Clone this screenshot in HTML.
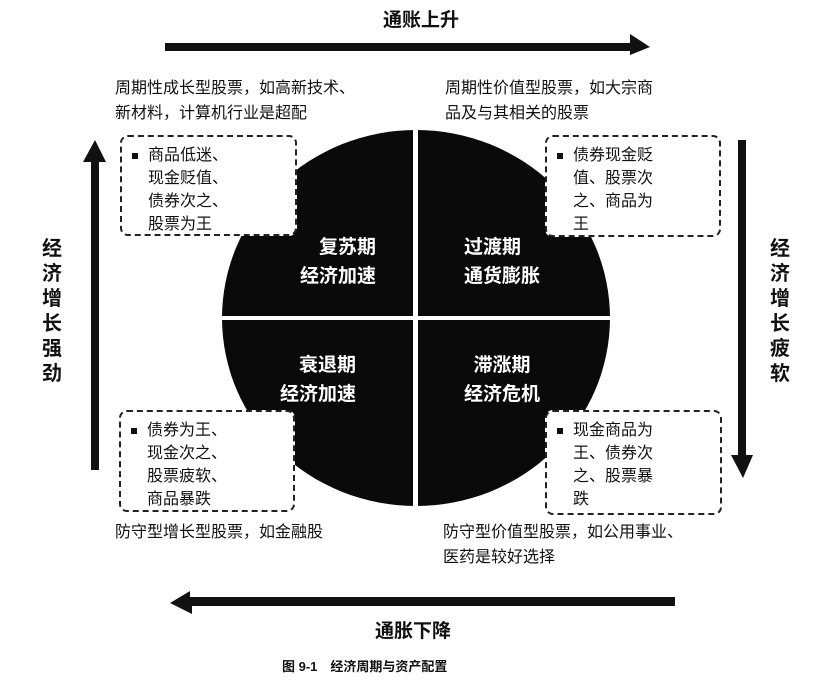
<!DOCTYPE html><html><head><meta charset="utf-8"><style>
body{margin:0;width:835px;height:688px;background:#fff;position:relative;overflow:hidden;font-family:"Liberation Sans","Noto Sans CJK SC",sans-serif;color:#111}
.t{position:absolute;font-size:16px;line-height:25px;white-space:nowrap}
.b{position:absolute;border:2.5px dashed #222;border-radius:8px;box-sizing:border-box;padding:7px 6px 0 26px;font-size:16px;line-height:23px;background:#fff;white-space:nowrap}
.b:before{content:"";position:absolute;left:10px;top:16px;width:6px;height:6px;background:#111}
.c{position:absolute;color:#fff;font-size:19px;line-height:29px;text-align:center;white-space:nowrap;font-weight:bold}
.v{position:absolute;font-size:20px;font-weight:bold;line-height:25px;width:24px;text-align:center}
</style></head><body>
<svg width="835" height="688" style="position:absolute;left:0;top:0">
<polygon points="165,43 630,43 630,34 650,47 630,55 630,51 165,51" fill="#111"/>
<polygon points="675,597 190,597 190,591 170,603 192,614 192,606 675,606" fill="#111"/>
<polygon points="91,470 91,162 83,162 95,140 106,162 99,162 99,470" fill="#111"/>
<polygon points="738,140 738,455 731,455 743,478 753,455 746,455 746,140" fill="#111"/>
<ellipse cx="416" cy="318" rx="194" ry="188" fill="#0a0a0a"/>
<rect x="413" y="125" width="5" height="390" fill="#fff"/>
<rect x="215" y="316" width="400" height="4" fill="#fff"/>
</svg>
<div class="t" style="left:383px;top:8px;font-size:19px;font-weight:bold">通账上升</div>
<div class="t" style="left:375px;top:619px;font-size:19px;font-weight:bold">通胀下降</div>
<div class="t" style="left:282px;top:654px;font-size:13px;font-weight:bold">图 9-1　经济周期与资产配置</div>
<div class="t" style="left:115px;top:76px">周期性成长型股票，如高新技术、<br>新材料，计算机行业是超配</div>
<div class="t" style="left:445px;top:76px">周期性价值型股票，如大宗商<br>品及与其相关的股票</div>
<div class="t" style="left:115px;top:520px">防守型增长型股票，如金融股</div>
<div class="t" style="left:443px;top:520px">防守型价值型股票，如公用事业、<br>医药是较好选择</div>
<div class="b" style="left:120px;top:135px;width:177px;height:101px">商品低迷、<br>现金贬值、<br>债券次之、<br>股票为王</div>
<div class="b" style="left:545px;top:135px;width:176px;height:102px">债券现金贬<br>值、股票次<br>之、商品为<br>王</div>
<div class="b" style="left:119px;top:410px;width:176px;height:102px">债券为王、<br>现金次之、<br>股票疲软、<br>商品暴跌</div>
<div class="b" style="left:545px;top:410px;width:177px;height:105px">现金商品为<br>王、债券次<br>之、股票暴<br>跌</div>
<div class="c" style="left:300px;top:233px">　复苏期<br>经济加速</div>
<div class="c" style="left:445px;top:233px">过渡期<br>　通货膨胀</div>
<div class="c" style="left:280px;top:351px">　衰退期<br>经济加速</div>
<div class="c" style="left:445px;top:351px">　滞涨期<br>　经济危机</div>
<div class="v" style="left:40px;top:237px">经<br>济<br>增<br>长<br>强<br>劲</div>
<div class="v" style="left:768px;top:237px">经<br>济<br>增<br>长<br>疲<br>软</div>
</body></html>
